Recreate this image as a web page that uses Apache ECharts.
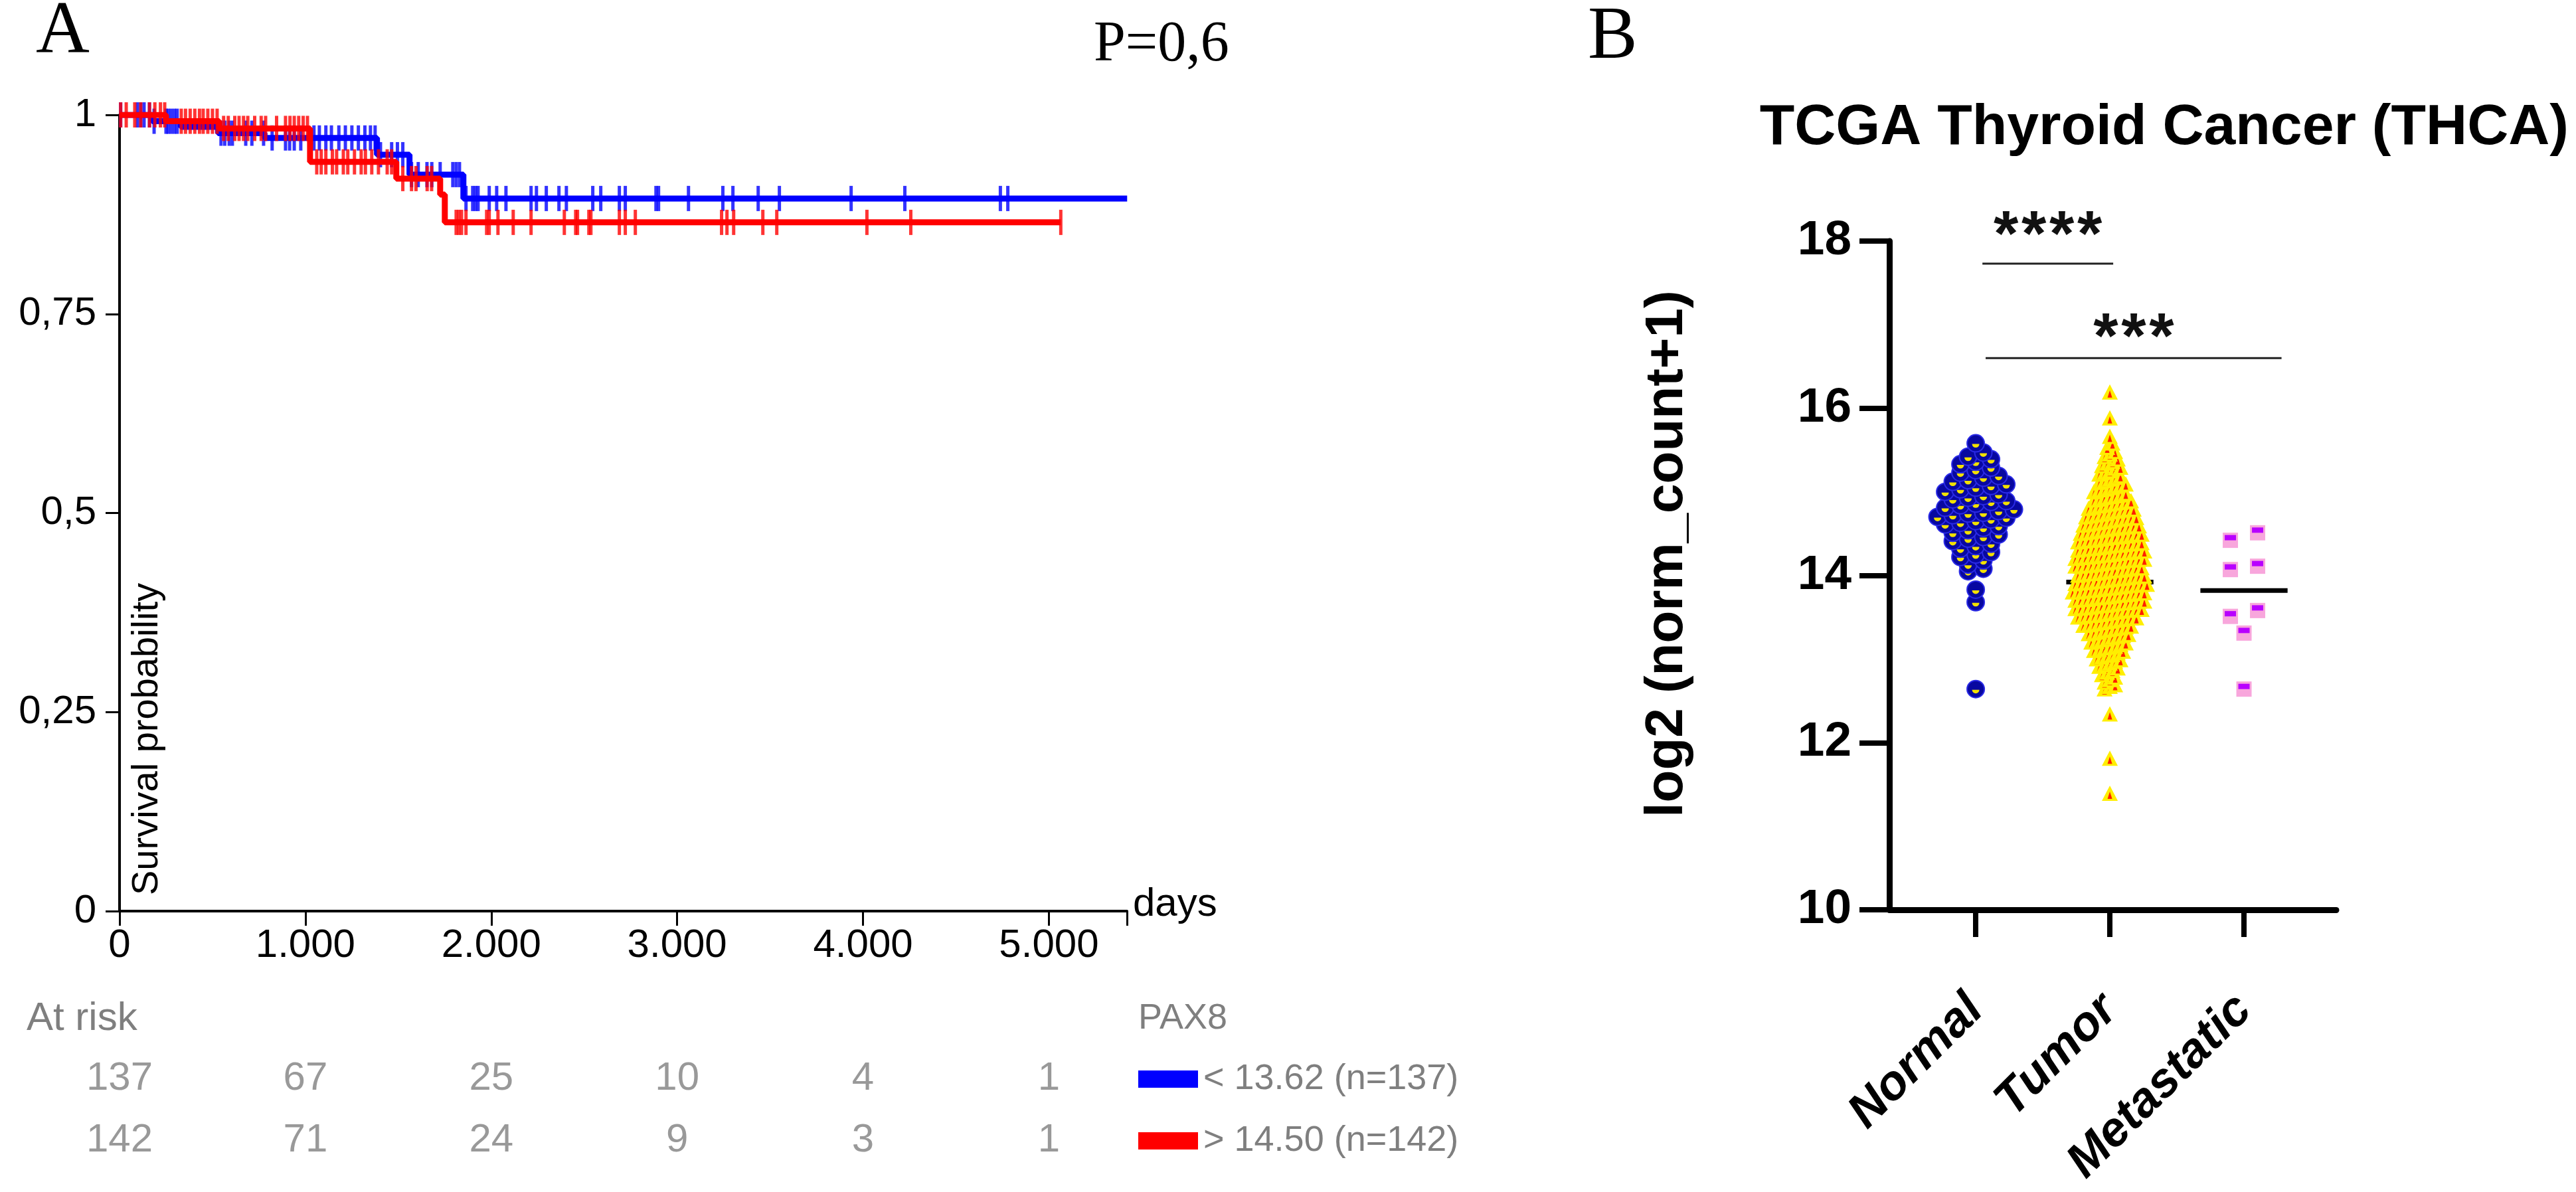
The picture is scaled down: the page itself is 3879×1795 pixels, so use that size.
<!DOCTYPE html>
<html><head><meta charset="utf-8">
<script src="https://cdn.jsdelivr.net/npm/echarts@6/dist/echarts.min.js"></script>
<style>html,body{margin:0;padding:0;background:#fff}#c{width:3879px;height:1795px}</style>
</head><body><div id="c"></div>
<script>
// ================= Panel A : Kaplan-Meier (PAX8) =================
const kmDayTicks = [0, 1000, 2000, 3000, 4000, 5000];
const kmAxisEnd = 5420;
// [day, survival] step points
const lowSteps = [[0,1],[176,0.992],[330,0.985],[530,0.977],[780,0.971],[1385,0.950],[1560,0.925],[1850,0.895],[5421,0.895]];
const highSteps = [[0,1],[250,0.992],[536,0.983],[1025,0.941],[1489,0.920],[1725,0.900],[1750,0.865],[5064,0.865]];
// censoring times (days)
const lowCensor = [6,96,114,132,161,186,250,262,278,295,310,546,566,590,607,679,712,775,821,893,915,940,975,1046,1075,1110,1140,1180,1215,1250,1285,1320,1350,1375,1404,1464,1495,1524,1571,1607,1654,1680,1725,1793,1811,1829,1864,1900,1915,1929,1989,2029,2079,2214,2243,2296,2364,2404,2546,2589,2689,2721,2886,2900,3061,3246,3300,3436,3550,3936,4225,4739,4779,5421];
const highCensor = [6,36,82,114,161,190,220,243,332,355,380,405,430,450,475,500,525,560,585,620,643,667,690,727,762,786,845,893,917,940,964,988,1011,1061,1085,1110,1145,1168,1204,1228,1264,1300,1323,1357,1393,1440,1464,1524,1571,1595,1655,1679,1811,1825,1840,1864,1975,1989,2036,2118,2214,2393,2454,2464,2525,2536,2689,2721,2775,3239,3268,3304,3461,3536,4021,4257,5064];
const atRiskLow = [137, 67, 25, 10, 4, 1];
const atRiskHigh = [142, 71, 24, 9, 3, 1];
const pValueText = 'P=0,6';
const geneName = 'PAX8';
const lowLegend = '< 13.62 (n=137)';
const highLegend = '> 14.50 (n=142)';

// ================= Panel B : TCGA THCA expression =================
const groups = ['Normal', 'Tumor', 'Metastatic'];
const normalVals = [12.64,13.68,13.83,14.05,14.08,14.13,14.18,14.22,14.25,14.28,14.32,14.35,14.38,
  14.41,14.44,14.46,14.49,14.51,14.54,14.57,14.59,14.61,14.63,14.65,14.67,14.69,
  14.70,14.72,14.74,14.75,14.77,14.79,14.81,14.84,14.86,14.88,14.89,
  14.91,14.93,14.95,14.97,15.00,15.03,15.05,15.07,15.09,15.12,15.14,15.17,15.19,
  15.23,15.26,15.29,15.33,15.36,15.39,15.42,15.47,15.58];
const tumorVals = [11.39,11.81,12.34,12.64,12.67,12.69,12.72,12.75,12.78,12.81,12.84,12.86,12.89,12.91,12.93,12.95,12.97,12.99,
  13.00,13.02,13.04,13.05,13.07,13.09,13.10,13.11,13.13,13.14,13.15,13.17,13.19,
  13.20,13.21,13.23,13.24,13.26,13.27,13.28,13.29,13.30,13.31,13.32,13.34,13.35,13.36,13.37,13.38,13.39,
  13.40,13.41,13.42,13.43,13.44,13.45,13.46,13.47,13.48,13.49,13.49,
  13.50,13.51,13.52,13.52,13.53,13.54,13.55,13.56,13.57,13.58,13.58,13.59,13.59,
  13.60,13.61,13.61,13.62,13.63,13.64,13.64,13.65,13.66,13.67,13.67,13.68,13.69,13.69,
  13.70,13.71,13.71,13.72,13.73,13.74,13.74,13.75,13.76,13.77,13.77,13.78,13.79,13.79,
  13.80,13.80,13.81,13.82,13.82,13.83,13.84,13.85,13.85,13.86,13.87,13.88,13.88,13.89,13.89,
  13.90,13.91,13.91,13.92,13.93,13.93,13.94,13.95,13.96,13.96,13.97,13.98,13.99,13.99,
  14.00,14.01,14.02,14.02,14.03,14.04,14.05,14.06,14.06,14.07,14.08,14.09,14.09,
  14.11,14.11,14.12,14.12,14.13,14.14,14.15,14.16,14.16,14.17,14.18,14.18,14.19,14.19,
  14.20,14.21,14.22,14.22,14.23,14.24,14.24,14.25,14.26,14.27,14.27,14.28,14.29,14.29,
  14.30,14.31,14.32,14.32,14.33,14.34,14.35,14.36,14.36,14.37,14.38,14.38,14.39,
  14.40,14.41,14.42,14.42,14.43,14.44,14.45,14.46,14.46,14.47,14.48,14.49,14.49,
  14.50,14.51,14.52,14.53,14.54,14.55,14.56,14.57,14.58,14.58,14.59,14.59,
  14.60,14.61,14.62,14.63,14.64,14.65,14.66,14.67,14.68,14.69,14.69,
  14.70,14.71,14.72,14.73,14.74,14.76,14.77,14.78,14.79,14.79,
  14.80,14.81,14.83,14.84,14.85,14.86,14.87,14.88,14.89,
  14.90,14.91,14.93,14.94,14.95,14.96,14.98,
  15.00,15.02,15.03,15.05,15.07,15.08,15.09,
  15.11,15.13,15.15,15.17,15.19,15.21,15.23,15.25,15.28,15.29,
  15.31,15.34,15.36,15.39,15.42,15.45,15.48,15.53,15.58,
  15.66,15.88,16.19];
const metastaticVals = [14.51,14.42,14.11,14.07,13.58,13.51,13.31,12.64];
const medians = [14.75, 13.92, 13.82];
// [from group pos, to group pos, bar level, star level, stars]
const sigBars = [[0.05, 1.025, 17.73, 18.2, '****'], [0.074, 2.28, 16.60, 16.98, '***']];

// ================= layout / style =================
const SANS = "'Liberation Sans', Arial, Helvetica, sans-serif";
const SERIF = "'Liberation Serif', 'Times New Roman', serif";
const GRAY = '#7f7f7f';
const BLUE = '#0000ff', RED = '#ff0000';
const A = {left: 180, top: 173, width: 1517, height: 1199};
const R = {left: 180, top: 1578, width: 1517, height: 186};
const B = {left: 2845, top: 363, width: 673, height: 1007};
const bxMin = -0.644, bxMax = 2.688;
const pxPerX = B.width / (bxMax - bxMin);

function survAt(steps, t) {
  let s = steps[0][1];
  for (const st of steps) { if (st[0] <= t) s = st[1]; else break; }
  return s;
}
// GraphPad-like row layout: points within a value row are spread side by side
function rowLayout(vals, gi, rowH, spacingPx) {
  const sorted = vals.slice().sort((a, b) => a - b);
  const rows = new Map();
  sorted.forEach(v => {
    const k = Math.floor((v - 10) / rowH + 1e-6);
    if (!rows.has(k)) rows.set(k, []);
    rows.get(k).push(v);
  });
  const out = [];
  rows.forEach(arr => {
    const n = arr.length;
    arr.forEach((v, k) => out.push([gi + (k - (n - 1) / 2) * spacingPx / pxPerX, v]));
  });
  return out;
}
const normalPts = rowLayout(normalVals, 0, 0.1, 23);
const tumorPts = rowLayout(tumorVals, 1, 0.1, 8);
const metaPts = rowLayout(metastaticVals, 2, 0.2, 41);

function fmtDays(v) {
  if (v < 1000) return String(v);
  return Math.floor(v / 1000) + '.' + String(v % 1000).padStart(3, '0');
}

const chart = echarts.init(document.getElementById('c'), null, {renderer: 'canvas'});

const option = {
  animation: false,
  backgroundColor: '#ffffff',
  grid: [
    {left: A.left, top: A.top, width: A.width, height: A.height},
    {left: R.left, top: R.top, width: R.width, height: R.height},
    {left: B.left, top: B.top, width: B.width, height: B.height}
  ],
  xAxis: [
    {gridIndex: 0, type: 'value', min: 0, max: kmAxisEnd,
     axisLine: {onZero: false, lineStyle: {color: '#000', width: 4}},
     axisTick: {customValues: kmDayTicks.concat([kmAxisEnd]), length: 22, lineStyle: {color: '#000', width: 3}},
     axisLabel: {customValues: kmDayTicks, formatter: fmtDays, fontSize: 60, color: '#000', fontFamily: SANS, margin: 22},
     splitLine: {show: false}},
    {gridIndex: 1, type: 'value', min: 0, max: kmAxisEnd, show: false},
    {gridIndex: 2, type: 'value', min: bxMin, max: bxMax,
     axisLine: {onZero: false, lineStyle: {color: '#000', width: 9}},
     axisTick: {customValues: [0, 1, 2], length: 41, lineStyle: {color: '#000', width: 8}},
     axisLabel: {customValues: [0, 1, 2], formatter: v => groups[Math.round(v)], rotate: 45,
       fontSize: 73, fontWeight: 'bold', fontStyle: 'italic', color: '#000', fontFamily: SANS, margin: 140},
     splitLine: {show: false}}
  ],
  yAxis: [
    {gridIndex: 0, type: 'value', min: 0, max: 1, interval: 0.25,
     axisLine: {show: true, onZero: false, lineStyle: {color: '#000', width: 4}},
     axisTick: {show: true, length: 21, lineStyle: {color: '#000', width: 3}},
     axisLabel: {formatter: v => String(v).replace('.', ','), fontSize: 60, color: '#000', fontFamily: SANS, margin: 35},
     splitLine: {show: false}},
    {gridIndex: 1, type: 'category', data: ['low', 'high'], inverse: true, show: false},
    {gridIndex: 2, type: 'value', min: 10, max: 18, interval: 2,
     axisLine: {show: true, onZero: false, lineStyle: {color: '#000', width: 9}},
     axisTick: {show: true, length: 45, lineStyle: {color: '#000', width: 8}},
     axisLabel: {fontSize: 73, fontWeight: 'bold', color: '#000', fontFamily: SANS, margin: 57},
     splitLine: {show: false}}
  ],
  series: [
    // ---- KM curves
    {type: 'line', xAxisIndex: 0, yAxisIndex: 0, step: 'end', symbol: 'none', data: lowSteps,
     lineStyle: {color: BLUE, width: 9}, z: 3},
    {type: 'scatter', xAxisIndex: 0, yAxisIndex: 0, symbol: 'rect', symbolSize: [5, 38],
     data: lowCensor.map(t => [t, survAt(lowSteps, t)]), itemStyle: {color: BLUE}, z: 3},
    {type: 'line', xAxisIndex: 0, yAxisIndex: 0, step: 'end', symbol: 'none', data: highSteps,
     lineStyle: {color: RED, width: 9}, z: 4},
    {type: 'scatter', xAxisIndex: 0, yAxisIndex: 0, symbol: 'rect', symbolSize: [5, 38],
     data: highCensor.map(t => [t, survAt(highSteps, t)]), itemStyle: {color: RED}, z: 4},
    // ---- at risk table
    {type: 'scatter', xAxisIndex: 1, yAxisIndex: 1, symbolSize: 1, itemStyle: {color: 'rgba(0,0,0,0)'},
     data: atRiskLow.map((n, i) => [kmDayTicks[i], 'low', n]).concat(atRiskHigh.map((n, i) => [kmDayTicks[i], 'high', n])),
     label: {show: true, position: 'inside', formatter: p => String(p.value[2]), fontSize: 60, color: GRAY, fontFamily: SANS}},
    // ---- medians (under points)
    {type: 'custom', xAxisIndex: 2, yAxisIndex: 2, z: 2,
     data: medians.map((m, i) => [i, m]),
     renderItem: (params, api) => {
       const i = api.value(0), m = api.value(1);
       const a = api.coord([i - 0.325, m]), b = api.coord([i + 0.325, m]);
       return {type: 'line', shape: {x1: a[0], y1: a[1], x2: b[0], y2: b[1]}, style: {stroke: '#000', lineWidth: 7}};
     }},
    // ---- Normal points
    {type: 'custom', xAxisIndex: 2, yAxisIndex: 2, z: 3, data: normalPts,
     renderItem: (params, api) => {
       const p = api.coord([api.value(0), api.value(1)]);
       return {type: 'group', children: [
         {type: 'circle', shape: {cx: p[0], cy: p[1], r: 13}, style: {fill: '#0808a0', stroke: '#2a2ae6', lineWidth: 2}},
         {type: 'sector', shape: {cx: p[0], cy: p[1] + 1, r0: 0, r: 5.5, startAngle: 0, endAngle: Math.PI, clockwise: true}, style: {fill: '#f2e000'}}
       ]};
     }},
    // ---- Tumor points
    {type: 'custom', xAxisIndex: 2, yAxisIndex: 2, z: 3, data: tumorPts,
     renderItem: (params, api) => {
       const p = api.coord([api.value(0), api.value(1)]);
       const x = p[0], y = p[1];
       return {type: 'group', children: [
         {type: 'polygon', shape: {points: [[x, y - 12], [x + 12, y + 11], [x - 12, y + 11]]}, style: {fill: '#ffee00'}},
         {type: 'polygon', shape: {points: [[x, y - 3], [x + 3.5, y + 8], [x - 3.5, y + 8]]}, style: {fill: '#ff2000'}}
       ]};
     }},
    // ---- Metastatic points
    {type: 'custom', xAxisIndex: 2, yAxisIndex: 2, z: 3, data: metaPts,
     renderItem: (params, api) => {
       const p = api.coord([api.value(0), api.value(1)]);
       const x = p[0], y = p[1];
       return {type: 'group', children: [
         {type: 'rect', shape: {x: x - 11.5, y: y - 11.5, width: 23, height: 23}, style: {fill: '#f8a6dc'}},
         {type: 'rect', shape: {x: x - 8.5, y: y - 8, width: 17, height: 8}, style: {fill: '#b800ff'}}
       ]};
     }},
    // ---- significance bars
    {type: 'custom', xAxisIndex: 2, yAxisIndex: 2, z: 4,
     data: sigBars.map(s => [s[0], s[1], s[2], s[3]]),
     renderItem: (params, api) => {
       const a = api.coord([api.value(0), api.value(2)]), b = api.coord([api.value(1), api.value(2)]);
       const sy = api.coord([api.value(0), api.value(3)])[1];
       const stars = sigBars[params.dataIndex][4];
       const n = stars.length, cx = (a[0] + b[0]) / 2;
       const kids = [{type: 'line', shape: {x1: a[0], y1: a[1], x2: b[0], y2: b[1]}, style: {stroke: '#222', lineWidth: 3}}];
       for (let k = 0; k < n; k++) {
         kids.push({type: 'text', x: cx + (k - (n - 1) / 2) * 42, y: sy + 20,
           style: {text: '*', fontSize: 96, fontWeight: 'bold', fontFamily: SANS, fill: '#111', align: 'center', verticalAlign: 'middle'}});
       }
       return {type: 'group', children: kids};
     }}
  ],
  graphic: [
    {type: 'text', x: 54, y: 50, style: {text: 'A', font: '112px ' + SERIF, fill: '#000', verticalAlign: 'middle'}},
    {type: 'text', x: 1647, y: 68, style: {text: pValueText, font: '86px ' + SERIF, fill: '#000', verticalAlign: 'middle'}},
    {type: 'text', x: 222, y: 1348, rotation: Math.PI / 2,
     style: {text: 'Survival probability', font: '56px ' + SANS, fill: '#000', align: 'left', verticalAlign: 'middle'}},
    {type: 'text', x: 1706, y: 1362, style: {text: 'days', font: '60px ' + SANS, fill: '#000', verticalAlign: 'middle'}},
    {type: 'text', x: 40, y: 1534, style: {text: 'At risk', font: '60px ' + SANS, fill: GRAY, verticalAlign: 'middle'}},
    {type: 'text', x: 1714, y: 1534, style: {text: geneName, font: '54px ' + SANS, fill: GRAY, verticalAlign: 'middle'}},
    {type: 'rect', shape: {x: 1714, y: 1612, width: 90, height: 26}, style: {fill: BLUE}},
    {type: 'text', x: 1812, y: 1625, style: {text: lowLegend, font: '54px ' + SANS, fill: GRAY, verticalAlign: 'middle'}},
    {type: 'rect', shape: {x: 1714, y: 1705, width: 90, height: 26}, style: {fill: RED}},
    {type: 'text', x: 1812, y: 1718, style: {text: highLegend, font: '54px ' + SANS, fill: GRAY, verticalAlign: 'middle'}},
    {type: 'text', x: 2391, y: 58, style: {text: 'B', font: '112px ' + SERIF, fill: '#000', verticalAlign: 'middle'}},
    {type: 'text', x: 3868, y: 193, style: {text: 'TCGA Thyroid Cancer (THCA)', font: 'bold 86px ' + SANS, fill: '#000', align: 'right', verticalAlign: 'middle'}},
    {type: 'text', x: 2511, y: 834, rotation: Math.PI / 2,
     style: {text: 'log2 (norm_count+1)', font: 'bold 80px ' + SANS, fill: '#000', align: 'center', verticalAlign: 'middle'}}
  ]
};
chart.setOption(option);
</script>
</body></html>
